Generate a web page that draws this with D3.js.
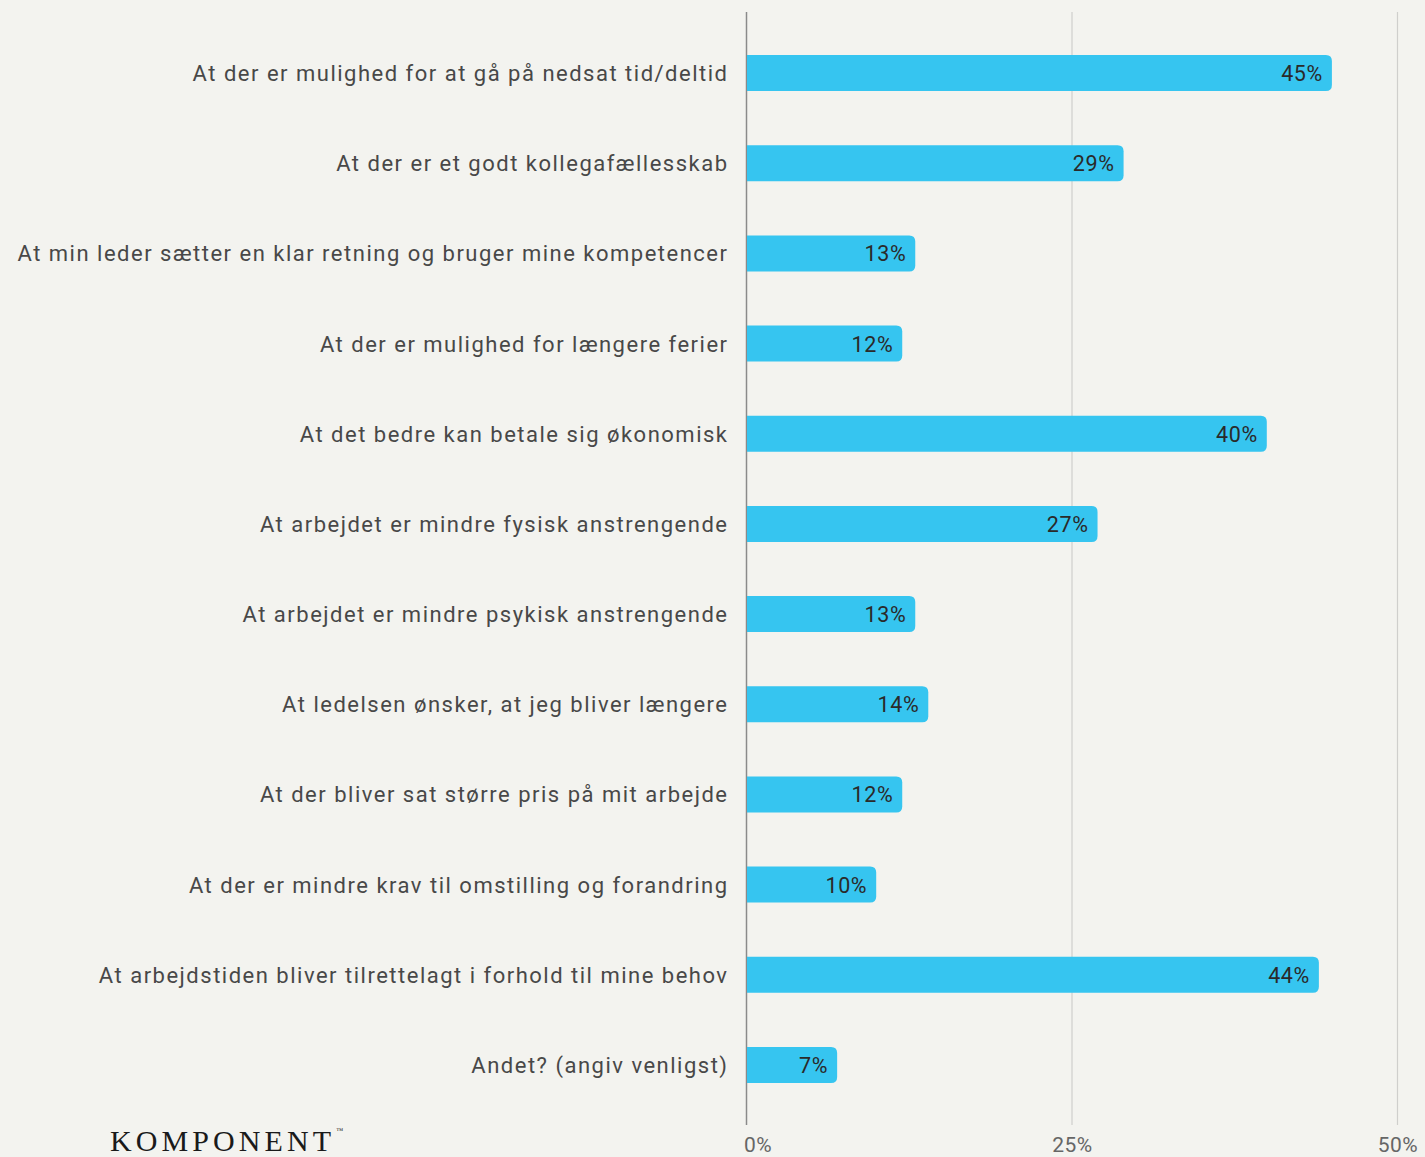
<!DOCTYPE html>
<html>
<head>
<meta charset="utf-8">
<script src="https://cdn.jsdelivr.net/npm/d3@7"></script>
<style>
  body { margin: 0; background: #f3f3ef; }
  svg { display: block; }
</style>
</head>
<body>
<div id="chart"></div>
<script>
// Data
const categories = [
  "At der er mulighed for at gå på nedsat tid/deltid",
  "At der er et godt kollegafællesskab",
  "At min leder sætter en klar retning og bruger mine kompetencer",
  "At der er mulighed for længere ferier",
  "At det bedre kan betale sig økonomisk",
  "At arbejdet er mindre fysisk anstrengende",
  "At arbejdet er mindre psykisk anstrengende",
  "At ledelsen ønsker, at jeg bliver længere",
  "At der bliver sat større pris på mit arbejde",
  "At der er mindre krav til omstilling og forandring",
  "At arbejdstiden bliver tilrettelagt i forhold til mine behov",
  "Andet? (angiv venligst)"
];
const values = [45, 29, 13, 12, 40, 27, 13, 14, 12, 10, 44, 7];
const ticks = [0, 25, 50];

const W = 1425, H = 1157;
const x0 = 746, x1 = 1397;
const labelSpacing = 1.5;

const svg = d3.select("#chart")
  .append("svg")
  .attr("width", W)
  .attr("height", H);

svg.append("rect").attr("width", W).attr("height", H).attr("fill", "#f3f3ef");

const xScale = d3.scaleLinear().domain([0, 50]).range([x0, x1]);
const yScale = d3.scaleBand()
  .domain(categories)
  .range([28, 1110])
  .paddingInner(0.6)
  .paddingOuter(0.3);

// Gridlines
svg.append("g")
  .selectAll("line")
  .data(ticks)
  .enter().append("line")
  .attr("x1", d => xScale(d) + 0.5)
  .attr("x2", d => xScale(d) + 0.5)
  .attr("y1", 12)
  .attr("y2", 1125)
  .attr("stroke", d => d === 0 ? "#8a8a8a" : "#cfcfcc")
  .attr("stroke-width", d => d === 0 ? 1.5 : 1.2);

// Tick labels
svg.append("g")
  .selectAll("text")
  .data(ticks)
  .enter().append("text")
  .attr("x", d => d === 0 ? xScale(d) - 2 : xScale(d) + 1)
  .attr("y", 1152)
  .attr("text-anchor", d => d === 0 ? "start" : "middle")
  .attr("font-family", "Roboto, sans-serif")
  .attr("font-size", 21)
  .attr("letter-spacing", 0.5)
  .attr("fill", "#666")
  .text(d => d + "%");

// Bars with rounded right end
const r = 6;
function barPath(d, i) {
  const xa = xScale(0) + 1, xb = xScale(d);
  const y = yScale(categories[i]), h = yScale.bandwidth();
  return `M${xa},${y}H${xb - r}Q${xb},${y} ${xb},${y + r}V${y + h - r}Q${xb},${y + h} ${xb - r},${y + h}H${xa}Z`;
}

svg.append("g")
  .selectAll("path")
  .data(values)
  .enter().append("path")
  .attr("d", barPath)
  .attr("fill", "#36c5f0");

// Value labels
svg.append("g")
  .selectAll("text")
  .data(values)
  .enter().append("text")
  .attr("x", d => xScale(d) - 9)
  .attr("y", (d, i) => yScale(categories[i]) + yScale.bandwidth() / 2 + 8)
  .attr("text-anchor", "end")
  .attr("font-family", "Roboto, sans-serif")
  .attr("font-size", 21.5)
  .attr("letter-spacing", 0.6)
  .attr("fill", "#2a2a2a")
  .text(d => d + "%");

// Category labels
svg.append("g")
  .selectAll("text")
  .data(categories)
  .enter().append("text")
  .attr("x", 727 + labelSpacing)
  .attr("y", d => yScale(d) + yScale.bandwidth() / 2 + 8)
  .attr("text-anchor", "end")
  .attr("font-family", "Roboto, sans-serif")
  .attr("font-size", 22)
  .attr("letter-spacing", labelSpacing)
  .attr("fill", "#484848")
  .text(d => d);

// Logo
const logo = svg.append("text")
  .attr("x", 110)
  .attr("y", 1151)
  .attr("font-family", "'Liberation Serif', serif")
  .attr("font-size", 30)
  .attr("letter-spacing", 4.1)
  .attr("fill", "#1a1a1a")
  .text("KOMPONENT");
logo.append("tspan")
  .attr("font-size", 7)
  .attr("dy", -18)
  .attr("dx", 1)
  .attr("letter-spacing", 0)
  .text("™");
</script>
</body>
</html>
